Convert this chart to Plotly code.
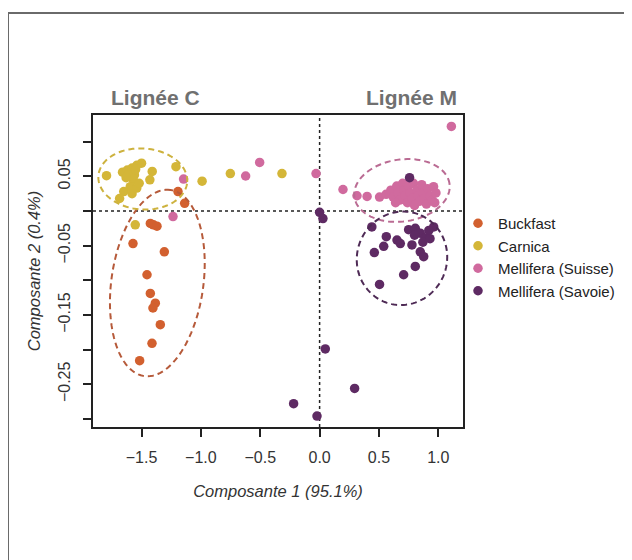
import numpy as np
import plotly.graph_objects as go

# ---------------- data ----------------
groups = ["Buckfast", "Carnica", "Mellifera (Suisse)", "Mellifera (Savoie)"]

buckfast_x = [-1.193, -1.137, -1.426, -1.40, -1.37, -1.572, -1.308, -1.454, -1.426, -1.384, -1.404, -1.342, -1.412, -1.516]
buckfast_y = [0.028, 0.011, -0.018, -0.020, -0.022, -0.047, -0.059, -0.092, -0.119, -0.133, -0.140, -0.164, -0.191, -0.216]

carnica_x = [-1.795, -1.66, -1.62, -1.58, -1.50, -1.54, -1.41, -1.43, -1.57, -1.595, -1.54, -1.65, -1.685, -1.61,
             -1.56, -1.63, -1.55, -1.52, -1.58, -1.21, -0.99, -0.752, -0.317, -1.553]
carnica_y = [0.051, 0.056, 0.059, 0.062, 0.069, 0.066, 0.057, 0.045, 0.045, 0.035, 0.033, 0.028, 0.018, 0.052,
             0.052, 0.048, 0.060, 0.040, 0.025, 0.064, 0.043, 0.054, 0.054, -0.020]

suisse_x = [-0.505, -0.623, -0.03, -1.146, -1.235, 1.110, 0.197, 0.315, 0.40, 0.505,
            0.56, 0.60, 0.62, 0.65, 0.66, 0.68, 0.70, 0.71, 0.72, 0.74, 0.75, 0.76, 0.78, 0.79, 0.80,
            0.82, 0.83, 0.84, 0.86, 0.87, 0.88, 0.90, 0.91, 0.93, 0.95, 0.96, 0.98, 0.97, 0.64]
suisse_y = [0.070, 0.0505, 0.054, 0.046, -0.008, 0.122, 0.031, 0.022, 0.021, 0.020,
            0.024, 0.030, 0.020, 0.036, 0.026, 0.016, 0.040, 0.030, 0.022, 0.012, 0.036, 0.026, 0.018, 0.040, 0.008,
            0.030, 0.022, 0.014, 0.038, 0.026, 0.018, 0.010, 0.032, 0.022, 0.015, 0.035, 0.026, 0.012, 0.012]

savoie_x = [0.758, 0.0, 0.028, 0.44, 0.562, 0.54, 0.652, 0.68, 0.778, 0.461, 0.75, 0.806, 0.848, 0.89,
            0.961, 0.92, 0.848, 0.877, 0.806, 0.708, 0.505, 0.048, 0.295, -0.219, -0.022, 0.80, 0.87, 0.93]
savoie_y = [0.048, -0.002, -0.011, -0.023, -0.037, -0.051, -0.042, -0.047, -0.049, -0.060, -0.027, -0.025, -0.032, -0.039,
            -0.023, -0.028, -0.059, -0.066, -0.080, -0.092, -0.106, -0.199, -0.256, -0.278, -0.296, -0.035, -0.045, -0.040]

x_tick_vals = [-1.5, -1.0, -0.5, 0.0, 0.5, 1.0]
x_tick_text = ["\u22121.5", "\u22121.0", "\u22120.5", "0.0", "0.5", "1.0"]
y_tick_vals = [0.10, 0.05, 0.0, -0.05, -0.10, -0.15, -0.20, -0.25, -0.30]
y_tick_text = ["", "0.05", "", "\u22120.05", "", "\u22120.15", "", "\u22120.25", ""]

# ---------------- styling ----------------
colors = ["#D2602F", "#D4B638", "#D06A9E", "#5E2A63"]
ellipse_colors = ["#B65A3A", "#CDB23E", "#BA6B93", "#4E2A55"]

X_RANGE = [-1.909, 1.208]
Y_RANGE = [-0.3117, 0.1385]
OFF = 8                      # default page body margin
W, H = 632 - OFF, 560 - OFF
ML, MT = 93 - OFF, 115 - OFF
PR, PB = 463 - OFF, 427 - OFF
MR, MB = W - PR, H - PB
PW, PH = PR - ML, PB - MT
SX = PW / (X_RANGE[1] - X_RANGE[0])
SY = PH / (Y_RANGE[1] - Y_RANGE[0])

# ellipse: center (data), semi-axes (px), rotation (deg, screen CCW)
ellipses = [
    dict(cx=-1.367, cy=-0.1039, a=94, b=46, ang=82),   # Buckfast
    dict(cx=-1.4895, cy=0.0462, a=44.5, b=30.5, ang=-4),  # Carnica
    dict(cx=0.694, cy=0.0296, a=48, b=31, ang=8),      # Suisse
    dict(cx=0.694, cy=-0.0683, a=47, b=45, ang=70),    # Savoie
]

FONT = "Liberation Sans, Arial, Helvetica, sans-serif"

fig = go.Figure()
series = [(buckfast_x, buckfast_y), (carnica_x, carnica_y), (suisse_x, suisse_y), (savoie_x, savoie_y)]
for name, (xs, ys), c in zip(groups, series, colors):
    fig.add_trace(go.Scatter(
        x=xs, y=ys, mode="markers", name=name,
        marker=dict(color=c, size=9.5, line=dict(width=0)),
    ))

shapes = []
shapes.append(dict(type="line", xref="x", yref="paper", x0=0, x1=0, y0=0, y1=1,
                   line=dict(color="#222", width=1.5, dash="3px,3px"), layer="below"))
shapes.append(dict(type="line", xref="paper", yref="y", x0=0, x1=1, y0=0, y1=0,
                   line=dict(color="#222", width=1.5, dash="3px,3px"), layer="below"))

t = np.linspace(0, 2 * np.pi, 120)
for e, ec in zip(ellipses, ellipse_colors):
    th = np.deg2rad(e["ang"])
    dx = e["a"] * np.cos(th) * np.cos(t) - e["b"] * np.sin(th) * np.sin(t)
    dy = e["a"] * np.sin(th) * np.cos(t) + e["b"] * np.cos(th) * np.sin(t)
    ex = e["cx"] + dx / SX
    ey = e["cy"] + dy / SY
    path = "M " + " L ".join(f"{a:.5f},{b:.5f}" for a, b in zip(ex, ey)) + " Z"
    shapes.append(dict(type="path", xref="x", yref="y", path=path,
                       line=dict(color=ec, width=2, dash="6px,4px"), layer="above"))


def px2paper_x(px):  # page px -> paper
    return (px - OFF - ML) / PW


def px2paper_y(py):
    return (PB - (py - OFF)) / PH


shapes.append(dict(type="rect", xref="paper", yref="paper",
                   x0=px2paper_x(8), x1=px2paper_x(630), y0=px2paper_y(580), y1=px2paper_y(13),
                   line=dict(color="#6a6a6a", width=2)))

annotations = [
    dict(text="<b>Lignée C</b>", x=px2paper_x(155), y=px2paper_y(97), xref="paper", yref="paper",
         showarrow=False, font=dict(family=FONT, size=21, color="#707070"), xanchor="center", yanchor="middle"),
    dict(text="<b>Lignée M</b>", x=px2paper_x(411), y=px2paper_y(97), xref="paper", yref="paper",
         showarrow=False, font=dict(family=FONT, size=21, color="#707070"), xanchor="center", yanchor="middle"),
]

fig.update_layout(
    width=W, height=H,
    margin=dict(l=ML, r=MR, t=MT, b=MB, autoexpand=False),
    paper_bgcolor="white", plot_bgcolor="white",
    font=dict(family=FONT, color="#333"),
    shapes=shapes, annotations=annotations,
    showlegend=True,
    legend=dict(x=px2paper_x(458), y=px2paper_y(207), xanchor="left", yanchor="top",
                font=dict(family=FONT, size=15, color="#222"), bgcolor="rgba(0,0,0,0)",
                itemwidth=30, tracegroupgap=0),
)
fig.update_xaxes(
    range=X_RANGE, showgrid=False, zeroline=False,
    showline=True, mirror=True, linecolor="#222", linewidth=1.5,
    ticks="outside", ticklen=8, tickwidth=1.5, tickcolor="#222",
    tickvals=x_tick_vals, ticktext=x_tick_text, ticklabelstandoff=7,
    tickfont=dict(family=FONT, size=16, color="#333"),
    title=dict(text="<i>Composante 1 (95.1%)</i>", font=dict(family=FONT, size=16.5, color="#333"), standoff=20),
)
fig.update_yaxes(
    range=Y_RANGE, showgrid=False, zeroline=False,
    showline=True, mirror=True, linecolor="#222", linewidth=1.5,
    ticks="outside", ticklen=8, tickwidth=1.5, tickcolor="#222",
    tickvals=y_tick_vals, ticktext=y_tick_text, tickangle=-90, ticklabelstandoff=7,
    tickfont=dict(family=FONT, size=16, color="#333"),
    title=dict(text="<i>Composante 2 (0.4%)</i>", font=dict(family=FONT, size=16.5, color="#333"), standoff=11),
)

fig.write_html("out.html")
